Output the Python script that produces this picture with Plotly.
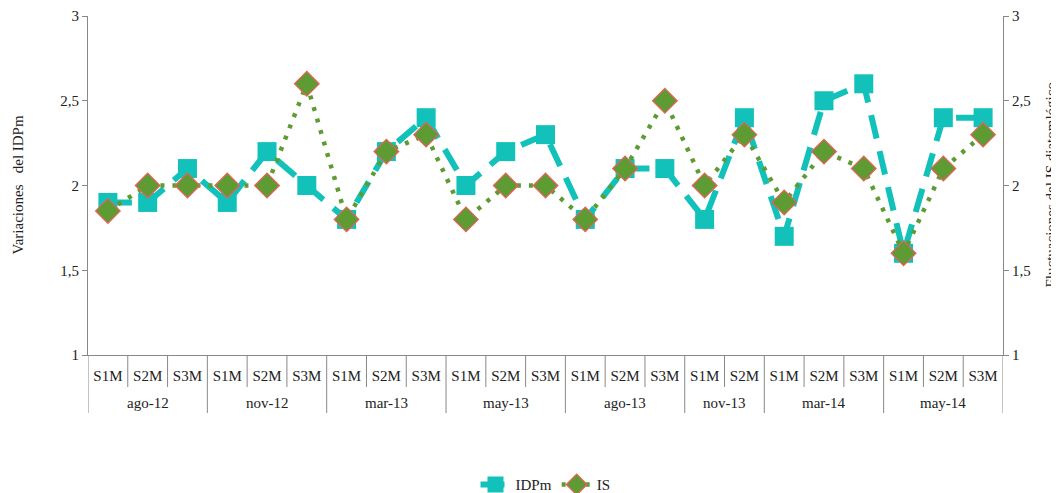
import plotly.graph_objects as go

groups = ["ago-12"]*3 + ["nov-12"]*3 + ["mar-13"]*3 + ["may-13"]*3 + ["ago-13"]*3 + ["nov-13"]*2 + ["mar-14"]*3 + ["may-14"]*3
subs = ["S1M", "S2M", "S3M"]*5 + ["S1M", "S2M"] + ["S1M", "S2M", "S3M"]*2
idpm = [1.9, 1.9, 2.1, 1.9, 2.2, 2.0, 1.8, 2.2, 2.4, 2.0, 2.2, 2.3, 1.8, 2.1, 2.1, 1.8, 2.4, 1.7, 2.5, 2.6, 1.6, 2.4, 2.4]
is_vals = [1.85, 2.0, 2.0, 2.0, 2.0, 2.6, 1.8, 2.2, 2.3, 1.8, 2.0, 2.0, 1.8, 2.1, 2.5, 2.0, 2.3, 1.9, 2.2, 2.1, 1.6, 2.1, 2.3]
yticks = [1, 1.5, 2, 2.5, 3]

FONT = "Liberation Serif"
TXT = "#222"
AX = "#888"
idx = list(range(len(subs)))
W, H = 1051, 485  # page body has an 8px margin
M = dict(l=80, r=56, t=8, b=138)
PLOT_H = H - M["t"] - M["b"]

fig = go.Figure()
fig.add_trace(go.Scatter(
    x=idx, y=idpm, name="IDPm", mode="lines+markers",
    customdata=[[g, s] for g, s in zip(groups, subs)],
    line=dict(color="#12C2BA", width=6, dash="24px,13px"),
    marker=dict(symbol="square", size=19, color="#12C2BA"),
))
fig.add_trace(go.Scatter(
    x=idx, y=is_vals, name="IS", mode="lines+markers", yaxis="y2",
    line=dict(color="#5E9B32", width=4.5, dash="4px,8px"),
    marker=dict(symbol="diamond", size=19, color="#5E9B32", line=dict(color="#E8605A", width=1.2)),
))

# category boundaries and group labels derived from the category arrays
shapes = []
annotations = []
for i in range(len(subs) + 1):
    b = i - 0.5
    is_group_edge = i == 0 or i == len(subs) or groups[i] != groups[i - 1]
    depth = 58 if is_group_edge else 32
    shapes.append(dict(type="line", xref="x", yref="paper", x0=b, x1=b,
                       y0=0, y1=-depth / PLOT_H, line=dict(color=AX, width=1)))
start = 0
for i in range(1, len(groups) + 1):
    if i == len(groups) or groups[i] != groups[start]:
        annotations.append(dict(text=groups[start], xref="x", yref="paper",
                                x=(start + i - 1) / 2, y=-48 / PLOT_H, yanchor="middle",
                                showarrow=False, font=dict(family=FONT, size=15, color=TXT)))
        start = i

annotations.append(dict(text="Variaciones   del IDPm", xref="paper", yref="paper", x=0, y=0.5,
                        xanchor="center", yanchor="middle",
                        xshift=-71, textangle=-90, showarrow=False,
                        font=dict(family=FONT, size=15, color=TXT)))
annotations.append(dict(text="Fluctuaciones del IS diatomlógico", xref="paper", yref="paper", x=1, y=0.5,
                        xanchor="center", yanchor="middle",
                        xshift=47, textangle=-90, showarrow=False,
                        font=dict(family=FONT, size=15, color=TXT)))

fig.update_layout(
    width=W, height=H,
    margin=M,
    paper_bgcolor="white", plot_bgcolor="white",
    separators=", ",
    font=dict(family=FONT, size=15, color=TXT),
    showlegend=True,
    legend=dict(orientation="h", x=0.5, xanchor="center", yref="container", y=0.017, yanchor="middle",
                font=dict(family=FONT, size=15, color=TXT)),
    shapes=shapes,
    annotations=annotations,
    xaxis=dict(range=[-0.5, len(subs) - 0.5], autorange=False, tickvals=idx, ticktext=subs,
               showline=True, linecolor=AX, linewidth=1, tickangle=0, ticks="",
               ticklabelstandoff=7, showgrid=False, zeroline=False, automargin=False,
               tickfont=dict(family=FONT, size=15, color=TXT)),
    yaxis=dict(range=[1, 3], tickvals=yticks, showgrid=False, showline=True,
               linecolor=AX, ticks="outside", ticklen=5, tickcolor=AX,
               zeroline=False, automargin=False, tickfont=dict(family=FONT, size=15, color=TXT)),
    yaxis2=dict(range=[1, 3], tickvals=yticks, overlaying="y", side="right", showgrid=False,
                showline=True, linecolor=AX, ticks="outside", ticklen=5, tickcolor=AX,
                zeroline=False, automargin=False, tickfont=dict(family=FONT, size=15, color=TXT)),
)
fig.write_html("out.html")
